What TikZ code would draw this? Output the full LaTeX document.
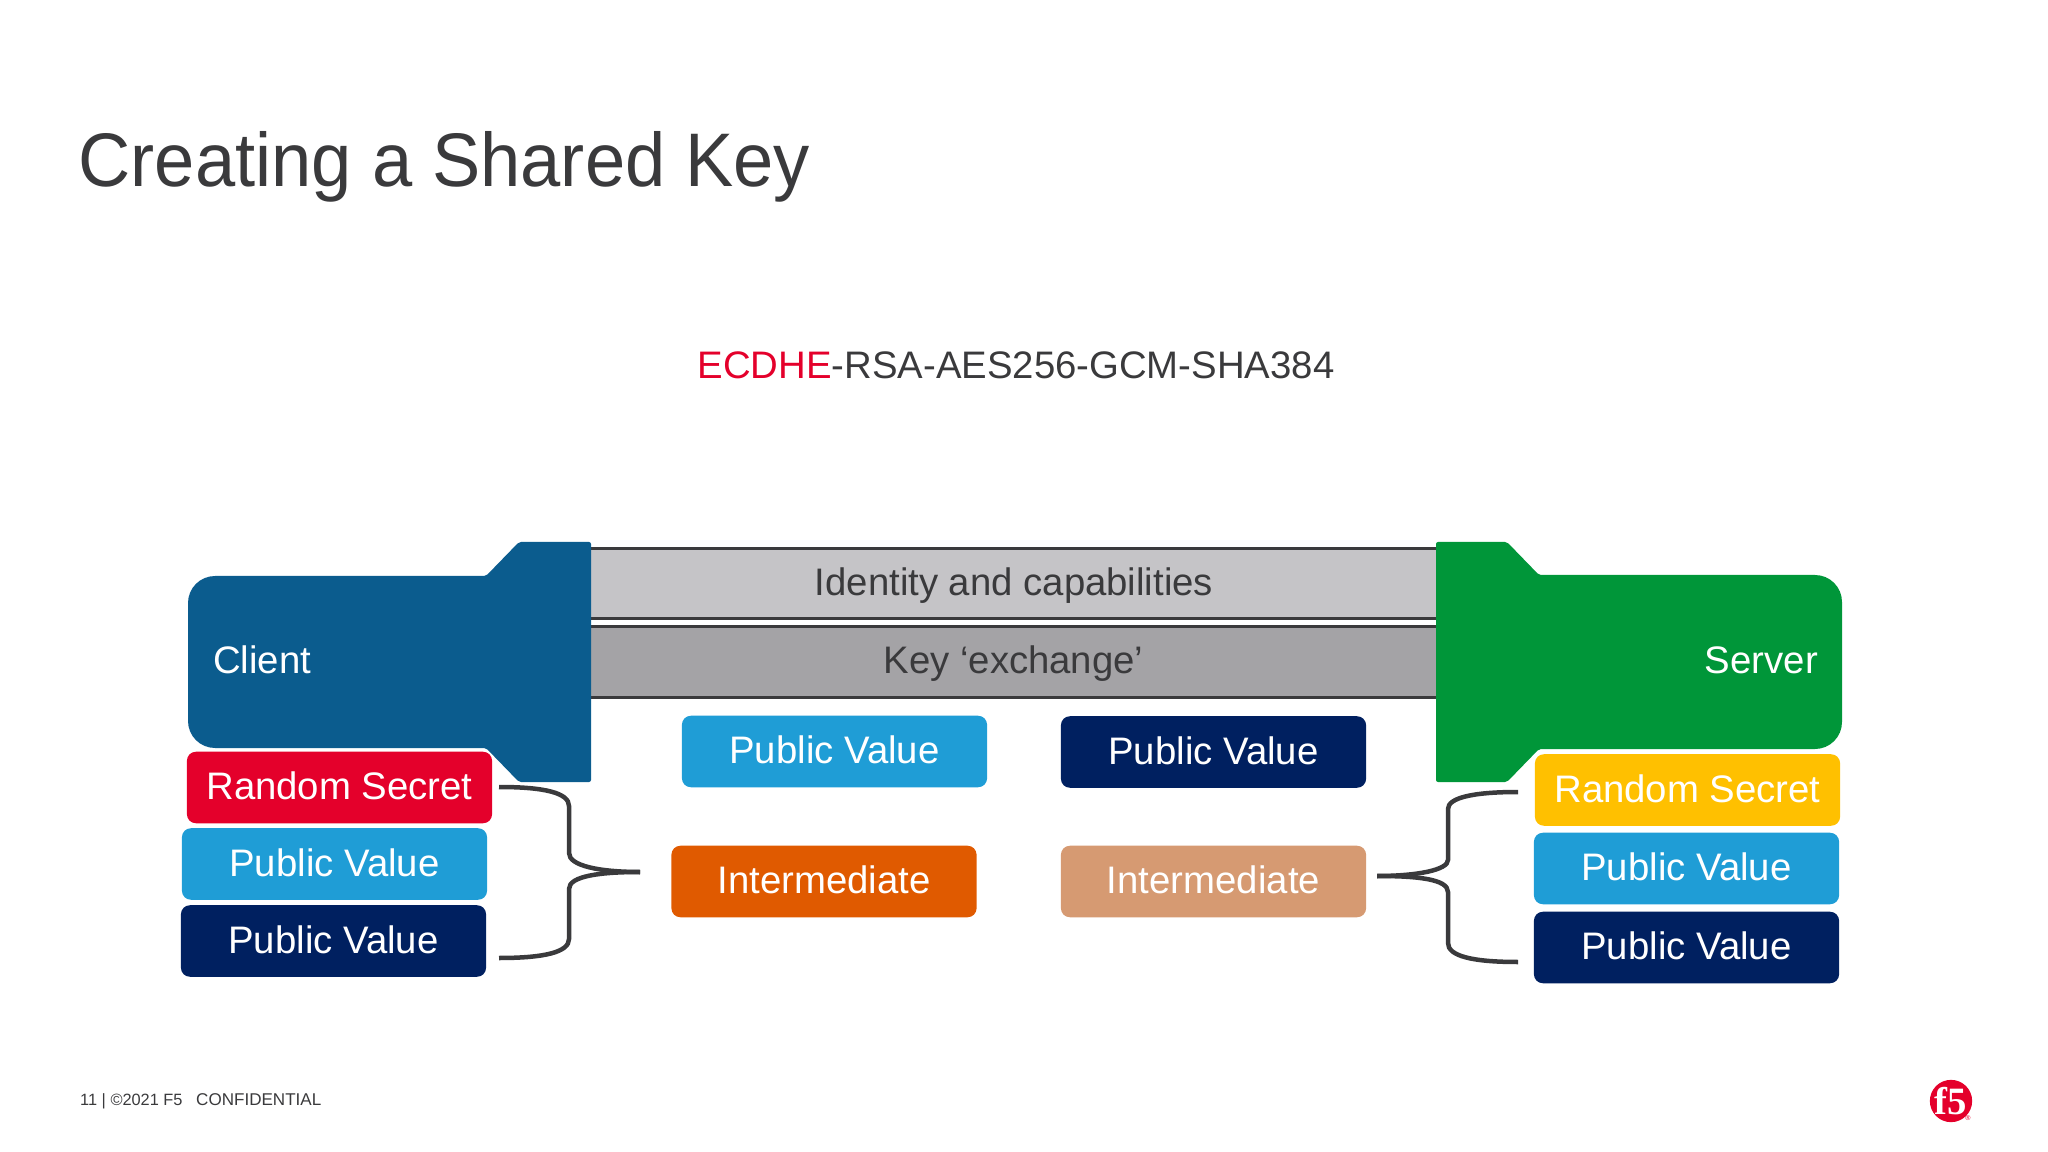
\documentclass[tikz,border=0pt]{standalone}
\usepackage{fontspec}
\setmainfont{Liberation Sans}
\newfontfamily\titlefont[FakeStretch=0.952]{Liberation Sans}
\newfontfamily\logofont{Liberation Serif}
\definecolor{inkgray}{HTML}{3A3A3C}
\definecolor{clientblue}{HTML}{0B5C8E}
\definecolor{servergreen}{HTML}{009639}
\definecolor{secretred}{HTML}{E4002B}
\definecolor{secretyellow}{HTML}{FFC000}
\definecolor{pubblue}{HTML}{1F9DD6}
\definecolor{pubnavy}{HTML}{002060}
\definecolor{interorange}{HTML}{E05A00}
\definecolor{intertan}{HTML}{D69A72}
\definecolor{barlight}{HTML}{C5C4C7}
\definecolor{bardark}{HTML}{A4A3A6}
\definecolor{f5red}{HTML}{E4002B}
\tikzset{
  keybox/.style={rounded corners=0.09cm,minimum width=3.05cm,minimum height=0.715cm,inner sep=0pt,
    text=white,text height=0.243cm,text depth=0pt,font=\fontsize{10.9pt}{12pt}\selectfont},
  barbox/.style={minimum width=8.45cm,minimum height=0.69cm,inner sep=0pt,
    text=inkgray,text height=0.232cm,text depth=0pt,font=\fontsize{10.9pt}{12pt}\selectfont},
  barline/.style={draw=inkgray,line width=0.03cm},
  bracket/.style={draw=inkgray,line width=0.045cm},
  endlabel/.style={inner sep=0pt,text=white,font=\fontsize{10.9pt}{12pt}\selectfont}
}
\begin{document}
\begin{tikzpicture}[x=0.01cm,y=-0.01cm]
  \useasboundingbox (0,0) rectangle (2048,1152);
  \node[anchor=base west,inner sep=0pt,text=inkgray,font=\fontsize{21.6pt}{24pt}\titlefont] (title) at (78,186.5) {Creating a Shared Key};
  \node[anchor=base,inner sep=0pt,text=inkgray,font=\fontsize{10.9pt}{14pt}\selectfont] (suite) at (1016,379) {\textcolor{secretred}{ECDHE}-RSA-AES256-GCM-SHA384};
  % the two message bars
  \node[barbox,fill=barlight] (identity) at (1014,583.5) {Identity and capabilities};
  \node[barbox,fill=bardark] (exchange) at (1013.5,662) {Key ‘exchange’};
  \draw[barline] (identity.north west) -- (identity.north east);
  \draw[barline] (identity.south west) -- (identity.south east);
  \draw[barline] (exchange.north west) -- (exchange.north east);
  \draw[barline] (exchange.south west) -- (exchange.south east);
  % client and server
  \fill[clientblue,rounded corners=0.02cm] (591,542) -- (519,542) -- (486,576) [rounded corners=0.27cm] -- (188,576) -- (188,748) [rounded corners=0.02cm] -- (486,748) -- (519,782) -- (591,782) -- cycle;
  \fill[servergreen,rounded corners=0.02cm] (1436,542) -- (1507,542) -- (1539,575) [rounded corners=0.27cm] -- (1842,575) -- (1842,749) [rounded corners=0.02cm] -- (1539,749) -- (1507,782) -- (1436,782) -- cycle;
  \node[endlabel,anchor=base west] (client) at (212.5,673) {Client};
  \node[endlabel,anchor=base east] (server) at (1818.5,673) {Server};
  % the key parts
  \foreach \name/\cx/\cy/\col/\txt in {
    rsc/339.5/787.5/secretred/Random Secret,
    pbc/334.5/864/pubblue/Public Value,
    pnc/333.5/941/pubnavy/Public Value,
    rss/1687.5/790/secretyellow/Random Secret,
    pbs/1686.5/868.5/pubblue/Public Value,
    pns/1686.5/947.5/pubnavy/Public Value,
    pbm/834.5/751.5/pubblue/Public Value,
    pnm/1213.5/752/pubnavy/Public Value,
    ico/824/881.5/interorange/Intermediate,
    ics/1213.5/881.5/intertan/Intermediate} {
    \node[keybox,fill=\col] (\name) at (\cx,\cy) {\txt};
  }
  % braces
  \coordinate (lefttop) at (499,787);
  \coordinate (leftbot) at (499,958);
  \coordinate (lefttip) at (640,872);
  \coordinate (righttop) at (1518,792);
  \coordinate (rightbot) at (1518,962);
  \coordinate (righttip) at (1377,876);
  \draw[bracket] (lefttop) .. controls (545,787) and (569,793) .. (569,806) -- (569,853) .. controls (569,866) and (600,872) .. (lefttip);
  \draw[bracket] (lefttip) .. controls (600,872) and (569,876) .. (569,889) -- (569,939) .. controls (569,952) and (545,958) .. (leftbot);
  \draw[bracket] (righttop) .. controls (1472,792) and (1448,798) .. (1448,809) -- (1448,860) .. controls (1448,870) and (1417,876) .. (righttip);
  \draw[bracket] (righttip) .. controls (1417,876) and (1448,879) .. (1448,892) -- (1448,943) .. controls (1448,956) and (1472,962) .. (rightbot);
  % footer
  \node[anchor=base west,inner sep=0pt,text=inkgray,font=\fontsize{4.65pt}{5pt}\selectfont] (page) at (79.5,1105) {11 | ©2021 F5};
  \node[anchor=base west,inner sep=0pt,text=inkgray,font=\fontsize{4.85pt}{5pt}\selectfont] (conf) at (195.5,1105) {CONFIDENTIAL};
  \node[circle,fill=f5red,minimum size=0.4cm,inner sep=0pt,text=white,font=\fontsize{11pt}{11pt}\logofont\bfseries] (logo) at (1951,1101) {f5};
  \node[inner sep=0pt,text=f5red,font=\fontsize{2pt}{2pt}\selectfont] (mark) at (1968,1118) {®};
\end{tikzpicture}
\end{document}
